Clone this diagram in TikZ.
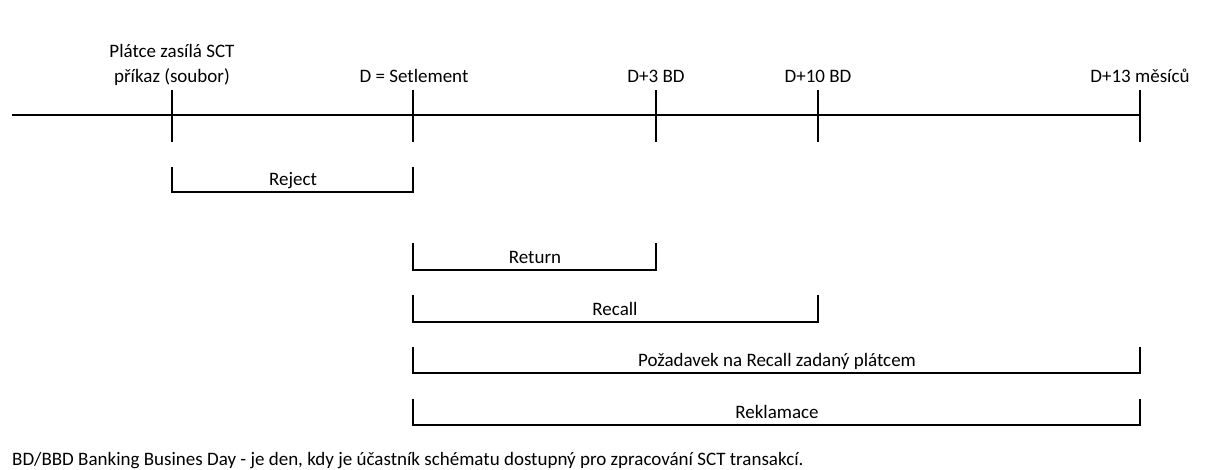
\documentclass[tikz,border=0pt]{standalone}
\usepackage{fontspec}
\setmainfont{Carlito}
\usetikzlibrary{positioning}
\def \axisy{115}
\def \tickup{90}
\def \tickdown{142}
\tikzset{
  tick/.style={line width=2.6pt},
  span/.style={line width=1.8pt},
  lbl/.style={font=\fontsize{19}{23}\selectfont, inner sep=0pt, anchor=base}
}

\begin{document}
\begin{tikzpicture}[x=1pt,y=-1pt]

    \useasboundingbox[fill=white] (0,0) rectangle (1209,470);

    % osa
    \coordinate (start) at (12,\axisy);
    \coordinate (send) at (172,\axisy);
    \coordinate (settle) at (413,\axisy);
    \coordinate (bd3) at (656,\axisy);
    \coordinate (bd10) at (818,\axisy);
    \coordinate (m13) at (1140,\axisy);
    \draw[line width=1.8pt] (start) -- (m13);

    \draw[tick] (send |- 0,\tickup) -- (send |- 0,\tickdown);
    \draw[tick] (settle |- 0,\tickup) -- (settle |- 0,\tickdown);
    \draw[tick] (bd3 |- 0,\tickup) -- (bd3 |- 0,\tickdown);
    \draw[tick] (bd10 |- 0,\tickup) -- (bd10 |- 0,\tickdown);
    \draw[tick] (m13 |- 0,\tickup) -- (m13 |- 0,\tickdown);

    \node[lbl] (lsend) at (172,58) {Plátce zasílá SCT};
    \node[lbl] (lsend2) at (172,83) {příkaz (soubor)};
    \node[lbl] (lsettle) at (414,83) {D = Setlement};
    \node[lbl] (lbd3) at (656,83) {D+3 BD};
    \node[lbl] (lbd10) at (818,83) {D+10 BD};
    \node[lbl] (lm13) at (1140,83) {D+13 měsíců};

    % lhuty
    \draw[span] (send |- 0,167) -- (send |- 0,192) -- (settle |- 0,192) -- (settle |- 0,167);
    \node[lbl] (reject) at (293,186) {Reject};

    \draw[span] (settle |- 0,243) -- (settle |- 0,270) -- (bd3 |- 0,270) -- (bd3 |- 0,243);
    \node[lbl] (return) at (535,264) {Return};

    \draw[span] (settle |- 0,295) -- (settle |- 0,322) -- (bd10 |- 0,322) -- (bd10 |- 0,295);
    \node[lbl] (recall) at (615,315) {Recall};

    \draw[span] (settle |- 0,347) -- (settle |- 0,373) -- (m13 |- 0,373) -- (m13 |- 0,347);
    \node[lbl] (request) at (777,366) {Požadavek na Recall zadaný plátcem};

    \draw[span] (settle |- 0,399) -- (settle |- 0,425) -- (m13 |- 0,425) -- (m13 |- 0,399);
    \node[lbl] (claim) at (777,418) {Reklamace};

    \node[lbl, anchor=base west] (note) at (12,465) {BD/BBD Banking Busines Day - je den, kdy je účastník schématu dostupný pro zpracování SCT transakcí.};

  \end{tikzpicture}
\end{document}
